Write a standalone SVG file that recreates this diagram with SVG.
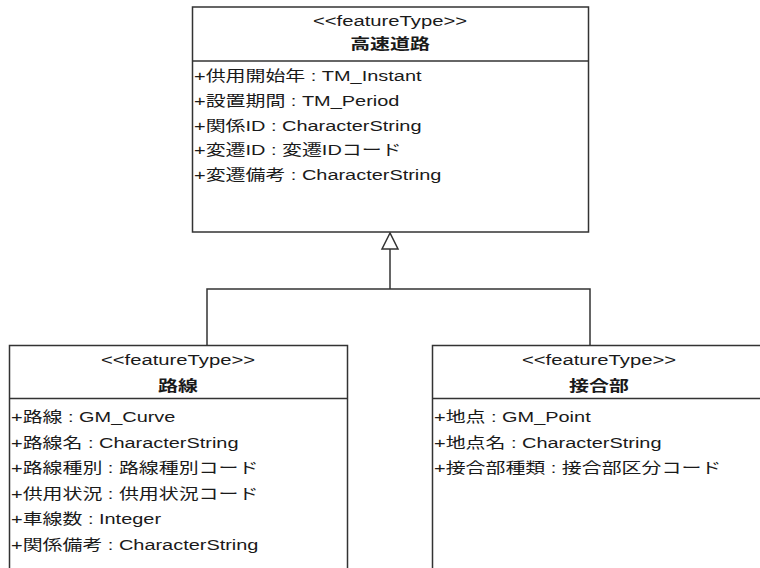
<svg xmlns="http://www.w3.org/2000/svg" width="760" height="568" viewBox="0 0 760 568">
<style>
.box{fill:#fff;stroke:#333;stroke-width:1.5}
.ln{fill:none;stroke:#333;stroke-width:1.5}
.t{font-family:"Liberation Sans","Noto Sans CJK JP",sans-serif;font-size:15px;fill:#1a1a1a}
.c{text-anchor:middle}
.b{font-weight:bold}
</style>
<rect width="760" height="568" fill="#fff"/>
<g id="connectors">
<polyline class="ln" points="390,249 390,289"/>
<polyline class="ln" points="207,345 207,289 590,289 590,345"/>
<polygon class="box" points="390,233 382,249 398,249"/>
</g>
<g id="node-kousokudouro">
<rect class="box" x="192.5" y="7" width="396" height="225"/>
<line class="ln" x1="192.5" y1="61" x2="588.5" y2="61"/>
<text class="t c" transform="translate(390,26) scale(1.35,1)">&lt;&lt;featureType&gt;&gt;</text>
<text class="t c b" transform="translate(390,49) scale(1.33,1)">高速道路</text>
<text class="t" transform="translate(194,81) scale(1.33,1)">+供用開始年 : TM_Instant</text>
<text class="t" transform="translate(194,106) scale(1.33,1)">+設置期間 : TM_Period</text>
<text class="t" transform="translate(194,130.5) scale(1.33,1)">+関係ID : CharacterString</text>
<text class="t" transform="translate(194,155) scale(1.33,1)">+変遷ID : 変遷IDコード</text>
<text class="t" transform="translate(194,179.5) scale(1.33,1)">+変遷備考 : CharacterString</text>
</g>
<g id="node-rosen">
<rect class="box" x="9.5" y="345.5" width="338" height="240"/>
<line class="ln" x1="9.5" y1="398.5" x2="347.5" y2="398.5"/>
<text class="t c" transform="translate(178,365) scale(1.35,1)">&lt;&lt;featureType&gt;&gt;</text>
<text class="t c b" transform="translate(178,391) scale(1.33,1)">路線</text>
<text class="t" transform="translate(11,422) scale(1.33,1)">+路線 : GM_Curve</text>
<text class="t" transform="translate(11,447.5) scale(1.33,1)">+路線名 : CharacterString</text>
<text class="t" transform="translate(11,473) scale(1.33,1)">+路線種別 : 路線種別コード</text>
<text class="t" transform="translate(11,498.5) scale(1.33,1)">+供用状況 : 供用状況コード</text>
<text class="t" transform="translate(11,524) scale(1.33,1)">+車線数 : Integer</text>
<text class="t" transform="translate(11,549.5) scale(1.33,1)">+関係備考 : CharacterString</text>
</g>
<g id="node-setsugoubu">
<rect class="box" x="432.5" y="345.5" width="334" height="240"/>
<line class="ln" x1="432.5" y1="398.5" x2="766.5" y2="398.5"/>
<text class="t c" transform="translate(599,365) scale(1.35,1)">&lt;&lt;featureType&gt;&gt;</text>
<text class="t c b" transform="translate(599,391) scale(1.33,1)">接合部</text>
<text class="t" transform="translate(434,422) scale(1.33,1)">+地点 : GM_Point</text>
<text class="t" transform="translate(434,447.5) scale(1.33,1)">+地点名 : CharacterString</text>
<text class="t" transform="translate(434,473) scale(1.33,1)">+接合部種類 : 接合部区分コード</text>
</g>
</svg>
